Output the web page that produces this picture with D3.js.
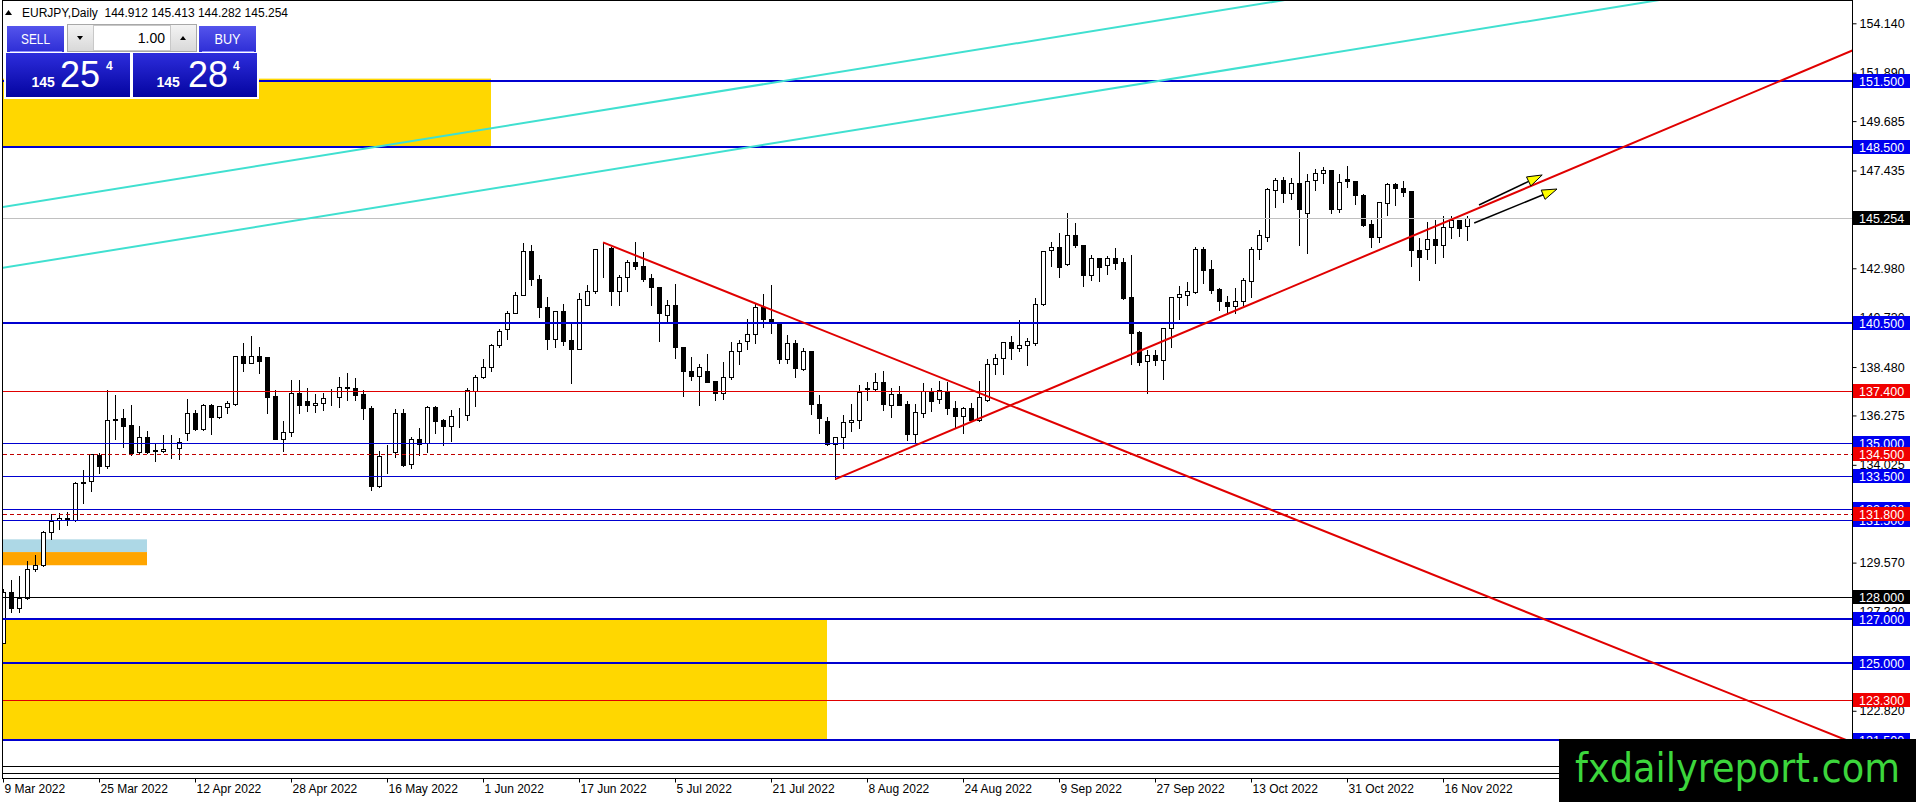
<!DOCTYPE html>
<html>
<head>
<meta charset="utf-8">
<script src="https://cdnjs.cloudflare.com/ajax/libs/d3/7.8.5/d3.min.js"></script>
<style>
  body { margin: 0; background: #fff; }
  svg { display: block; font-family: "Liberation Sans", Arial, sans-serif; }
</style>
</head>
<body>
<svg id="chart" width="1916" height="802"></svg>
<script>
// daily EURJPY candles, 9 Mar 2022 .. 21 Nov 2022
const opens = [
  125.92,128.22,127.52,127.96,129.27,129.45,130.96,131.50,131.59,131.51,
  133.20,133.27,134.47,133.96,136.05,136.14,135.83,134.60,135.28,134.66,
  134.67,134.77,134.78,135.46,136.37,135.64,136.75,136.22,136.65,136.80,
  138.97,138.68,138.97,138.92,137.16,135.22,135.51,137.28,136.92,136.74,
  136.83,137.07,137.10,137.53,137.51,137.24,136.63,133.07,134.61,134.62,
  136.37,134.05,135.19,135.03,136.65,136.07,135.81,136.29,136.30,137.40,
  138.01,138.47,139.48,140.20,140.96,141.78,143.75,142.50,141.20,139.77,
  141.02,139.71,139.32,141.32,141.93,143.86,143.90,141.93,142.57,143.27,
  143.08,142.54,142.11,140.84,141.29,139.41,138.31,138.09,138.29,137.83,
  137.28,138.04,139.20,139.68,139.99,141.23,140.65,140.47,138.86,139.56,
  138.40,139.22,136.78,136.02,134.96,135.31,135.96,136.05,137.50,137.49,
  137.80,136.76,137.25,136.80,135.42,136.40,137.37,137.01,137.37,136.60,
  136.26,136.60,136.07,136.98,138.60,138.88,139.61,139.33,139.48,139.57,
  141.34,143.81,143.96,143.16,144.48,144.03,142.66,143.45,143.13,143.45,
  143.27,141.68,140.08,138.74,139.01,138.80,140.24,141.66,141.76,141.91,
  143.86,142.93,142.02,141.43,141.27,141.50,142.41,143.86,144.42,146.55,
  147.01,146.40,146.85,145.48,147.00,147.33,147.44,145.67,147.04,146.94,
  146.32,145.00,144.39,145.97,146.81,146.65,146.49,143.80,143.84,144.33,
  144.03,144.87,145.18,144.912
];
const highs = [
  128.43,128.82,129.00,129.69,129.96,131.06,131.82,131.86,131.93,133.30,
  133.82,134.55,134.62,137.48,137.25,136.60,136.78,135.84,135.61,135.08,
  135.43,135.43,135.28,137.06,136.55,136.83,136.86,136.75,136.98,139.01,
  139.61,139.93,139.44,138.99,137.47,136.07,137.92,137.92,137.58,137.28,
  137.33,137.51,138.07,138.25,138.01,137.47,136.75,134.70,134.96,136.60,
  136.60,135.35,135.73,136.75,136.75,136.14,136.57,136.67,137.58,138.16,
  138.89,139.56,140.24,141.08,141.96,144.18,144.09,142.72,141.72,141.05,
  141.38,140.47,141.90,142.26,143.89,144.18,144.00,142.72,143.42,144.21,
  143.78,142.78,142.15,141.59,142.32,139.45,138.98,138.68,139.11,137.85,
  138.74,139.65,139.77,140.71,141.38,141.84,142.26,140.50,139.99,139.74,
  139.41,139.27,137.25,136.24,135.35,136.34,136.83,137.71,137.83,138.25,
  138.35,137.58,137.67,136.98,136.86,137.80,137.58,137.89,137.83,136.98,
  136.70,136.90,137.89,138.89,139.13,139.68,139.95,140.65,139.86,141.68,
  143.80,144.21,144.62,145.54,145.07,144.05,143.63,143.47,143.57,143.94,
  143.51,143.63,140.17,139.29,139.32,140.32,141.72,142.23,142.39,144.00,
  144.00,143.39,142.14,141.75,142.14,142.60,144.00,144.75,146.70,147.15,
  147.18,147.12,148.32,147.33,147.53,147.64,147.50,147.31,147.68,146.96,
  146.40,145.24,146.06,146.91,146.91,146.99,146.55,144.42,145.13,145.24,
  145.39,145.39,145.20,145.413
];
const lows = [
  125.90,127.33,127.33,127.90,129.20,129.40,130.66,131.12,131.30,131.45,
  132.27,132.85,133.64,133.88,135.20,134.82,134.46,134.55,134.55,134.21,
  134.61,134.34,134.28,135.16,135.61,135.61,135.43,136.17,136.37,136.75,
  138.31,138.65,138.19,136.40,135.20,134.67,135.35,136.40,136.46,136.45,
  136.52,136.74,136.67,136.98,136.98,136.10,132.88,133.00,133.67,134.40,
  133.97,133.87,134.47,134.60,135.49,134.93,135.12,135.76,136.07,136.70,
  137.98,138.31,139.41,139.74,140.93,141.75,142.23,140.75,139.29,139.41,
  139.47,137.77,139.30,141.29,141.84,142.57,141.32,141.32,141.96,142.96,
  142.39,141.29,139.68,140.50,138.89,137.16,137.89,136.76,137.78,136.98,
  137.04,137.92,138.62,139.29,139.59,140.32,140.04,138.68,138.65,138.04,
  138.35,136.33,135.46,134.93,133.37,134.78,135.58,135.72,136.98,137.43,
  136.52,136.22,136.74,135.16,135.01,136.19,136.49,136.86,136.33,135.69,
  135.46,136.04,136.04,136.95,138.16,138.16,138.86,139.22,138.59,139.50,
  141.29,143.08,142.57,143.13,143.94,142.19,142.45,142.41,142.72,142.93,
  141.57,138.62,138.56,137.31,138.56,137.95,139.38,140.68,141.29,141.87,
  142.32,141.84,141.08,140.90,140.93,141.31,141.68,143.39,144.24,145.76,
  145.98,146.12,144.03,143.69,146.55,146.85,145.48,145.56,146.70,145.91,
  144.91,143.94,144.18,145.39,145.88,146.27,143.08,142.45,143.39,143.23,
  143.48,144.35,144.46,144.282
];
const closes = [
  128.22,127.52,127.96,129.28,129.45,130.96,131.48,131.59,131.51,133.18,
  133.22,134.50,133.99,136.05,136.13,135.81,134.58,135.28,134.63,134.68,
  134.76,134.79,135.05,136.37,135.64,136.74,136.22,136.69,136.83,138.97,
  138.68,138.97,138.75,137.13,135.22,135.51,137.28,136.76,136.74,136.83,
  137.06,137.09,137.56,137.55,137.22,136.60,133.07,134.43,134.63,136.37,
  134.02,135.19,134.96,136.65,136.04,135.79,136.26,136.31,137.43,138.01,
  138.47,139.48,140.14,140.96,141.78,143.75,142.50,141.23,139.77,141.02,
  139.68,139.32,141.57,141.93,143.84,143.88,141.93,142.60,143.27,143.08,
  142.50,142.11,140.93,141.29,139.38,138.31,138.09,138.50,137.80,137.28,
  138.04,139.20,139.56,139.99,141.23,140.68,140.47,138.83,139.56,138.42,
  139.20,136.80,136.14,134.96,135.31,135.96,136.05,137.36,137.52,137.80,
  136.78,137.25,136.76,135.42,136.42,137.37,136.95,137.43,136.60,136.26,
  136.60,136.07,137.10,138.62,138.88,139.61,139.33,139.48,139.66,141.35,
  143.77,143.96,143.05,144.48,144.03,142.67,143.45,143.05,143.45,143.23,
  141.63,140.04,138.71,139.01,138.80,140.24,141.66,141.79,141.93,143.86,
  142.91,141.99,141.47,141.27,141.50,142.45,143.86,144.48,146.58,147.01,
  146.40,146.85,145.67,146.97,147.31,147.44,145.67,146.91,146.95,146.30,
  144.96,144.39,146.00,146.81,146.65,146.47,143.80,143.51,144.33,144.03,
  144.87,145.18,144.81,145.254
];

// axis labels
const dateLabels = ["9 Mar 2022","25 Mar 2022","12 Apr 2022","28 Apr 2022","16 May 2022",
  "1 Jun 2022","17 Jun 2022","5 Jul 2022","21 Jul 2022","8 Aug 2022","24 Aug 2022",
  "9 Sep 2022","27 Sep 2022","13 Oct 2022","31 Oct 2022","16 Nov 2022"];
const priceTicks = [154.140,151.890,149.685,147.435,145.185,142.980,140.730,138.480,
  136.275,134.025,131.775,129.570,127.320,125.070,122.820,120.570];

// horizontal levels
const levelPrices = [151.5,148.5,140.5,137.4,135.0,134.5,133.5,132.0,131.8,131.5,128.0,127.0,125.0,123.3,121.5,120.3,120.0];
const levelKinds  = ["major","major","major","red","minor","dash","minor","minor","dash","minor","black","major","major","red","major","plain","plain"];

// rectangles: bar index from/to, price top/bottom
const zoneKinds  = ["gold","gold","sky","orange"];
const zoneFrom   = [-0.5,-0.5,-0.5,-0.5];
const zoneTo     = [61,103,18,18];
const zoneTop    = [151.62,127.0,130.63,130.05];
const zoneBottom = [148.5,121.5,130.05,129.45];

// trend lines: two anchor points [bar, price]
const trendKinds = ["cyan","cyan","red","red"];
const trendA = [[0,145.77],[0,143.00],[75,144.16],[104.04,133.37]];
const trendB = [[150,154.60],[150,151.84],[230.1,121.53],[231.1,152.89]];
const trendBoth = [true,true,false,false];

// arrows
const arrowFrom = [[184.5,145.86],[183.9,145.04]];
const arrowTo   = [[192.4,147.23],[194.25,146.59]];

const W = 1916, H = 802;
const left = 2.5, right = 1852, bottom = 778;

const tradingDays = d3.timeDays(new Date(2022,2,9), new Date(2022,10,22))
  .filter(d => d.getDay() !== 0 && d.getDay() !== 6);
const bars = opens.map((o, i) => ({ i, date: tradingDays[i], o, h: highs[i], l: lows[i], c: closes[i] }));

const x = d3.scaleLinear().domain([0, 231.125]).range([3, right]);
const y = d3.scaleLinear().domain([119.757, 155.202]).range([bottom, 0]);

const svg = d3.select("#chart");
const defs = svg.append("defs");
defs.append("clipPath").attr("id", "plotClip").append("rect")
  .attr("x", 3).attr("y", 1).attr("width", right - 3).attr("height", bottom - 1);

const grad = (id, c1, c2) => {
  const g = defs.append("linearGradient").attr("id", id).attr("x1", 0).attr("x2", 0).attr("y1", 0).attr("y2", 1);
  g.append("stop").attr("offset", "0%").attr("stop-color", c1);
  g.append("stop").attr("offset", "100%").attr("stop-color", c2);
};
grad("btnGrad", "#5454ec", "#2e2ed6");
grad("priceGrad", "#2d2ddc", "#0404a0");
grad("spinGrad", "#f4f4f4", "#d8d8d8");

svg.append("rect").attr("width", W).attr("height", H).attr("fill", "#fff");

const plot = svg.append("g").attr("clip-path", "url(#plotClip)");

// background rectangles
const zoneColor = { gold: "#ffd700", sky: "#add8e6", orange: "#ffa500" };
plot.append("g").selectAll("rect").data(zoneKinds).join("rect")
  .attr("x", (d, i) => Math.max(3, x(zoneFrom[i])))
  .attr("width", (d, i) => x(zoneTo[i]) - Math.max(3, x(zoneFrom[i])))
  .attr("y", (d, i) => y(zoneTop[i]))
  .attr("height", (d, i) => y(zoneBottom[i]) - y(zoneTop[i]))
  .attr("fill", d => zoneColor[d]);

// candles
const px = v => Math.round(x(v)) + 0.5;
const py = v => Math.round(y(v)) + 0.5;
const gc = plot.append("g").attr("shape-rendering", "crispEdges");
gc.selectAll("line").data(bars).join("line")
  .attr("x1", d => px(d.i)).attr("x2", d => px(d.i))
  .attr("y1", d => py(d.h)).attr("y2", d => py(d.l))
  .attr("stroke", "#000");
gc.selectAll("rect").data(bars).join("rect")
  .attr("x", d => px(d.i) - 2)
  .attr("width", 4)
  .attr("y", d => py(Math.max(d.o, d.c)))
  .attr("height", d => Math.max(0, py(Math.min(d.o, d.c)) - py(Math.max(d.o, d.c))))
  .attr("fill", d => d.c >= d.o ? "#fff" : "#000")
  .attr("stroke", "#000");

// horizontal levels
const levelStyle = {
  major: { stroke: "#0000d0", w: 2, label: "#0000f0" },
  minor: { stroke: "#0000d0", w: 1, label: "#0000f0" },
  red:   { stroke: "#e00000", w: 1, label: "#f00000" },
  dash:  { stroke: "#c00000", w: 1, dash: "4,3", label: "#f00000" },
  black: { stroke: "#000000", w: 1, label: "#000000" },
  plain: { stroke: "#000000", w: 1, label: null }
};
const levels = levelPrices.map((p, i) => ({ p, s: levelStyle[levelKinds[i]] }));
const lastClose = closes[closes.length - 1];

plot.append("line").attr("x1", 3).attr("x2", right)
  .attr("y1", py(lastClose)).attr("y2", py(lastClose))
  .attr("stroke", "#c0c0c0").attr("shape-rendering", "crispEdges");

plot.append("g").attr("shape-rendering", "crispEdges").selectAll("line").data(levels).join("line")
  .attr("x1", 3).attr("x2", right)
  .attr("y1", d => d.s.w === 2 ? Math.round(y(d.p)) : py(d.p))
  .attr("y2", d => d.s.w === 2 ? Math.round(y(d.p)) : py(d.p))
  .attr("stroke", d => d.s.stroke)
  .attr("stroke-width", d => d.s.w)
  .attr("stroke-dasharray", d => d.s.dash || null);

// trend lines
const trendColor = { cyan: "#40e0d0", red: "#e00000" };
const trends = trendKinds.map((k, i) => {
  const a = trendA[i], b = trendB[i];
  const slope = (b[1] - a[1]) / (b[0] - a[0]);
  const x0 = trendBoth[i] ? -10 : a[0];
  const x1 = 240;
  return { k, p0: [x0, a[1] + slope * (x0 - a[0])], p1: [x1, a[1] + slope * (x1 - a[0])] };
});
plot.append("g").selectAll("line").data(trends).join("line")
  .attr("x1", d => x(d.p0[0])).attr("y1", d => y(d.p0[1]))
  .attr("x2", d => x(d.p1[0])).attr("y2", d => y(d.p1[1]))
  .attr("stroke", d => trendColor[d.k]).attr("stroke-width", 2);

// arrows
const ga = plot.append("g");
arrowFrom.forEach((f, i) => {
  const t = arrowTo[i];
  const x1 = x(f[0]), y1 = y(f[1]), x2 = x(t[0]), y2 = y(t[1]);
  const len = Math.hypot(x2 - x1, y2 - y1), ux = (x2 - x1) / len, uy = (y2 - y1) / len;
  const bx = x2 - 15 * ux, by = y2 - 15 * uy, nx = -uy, ny = ux;
  ga.append("line").attr("x1", x1).attr("y1", y1).attr("x2", bx).attr("y2", by)
    .attr("stroke", "#000").attr("stroke-width", 1.5);
  ga.append("path")
    .attr("d", `M${x2},${y2}L${bx + 5 * nx},${by + 5 * ny}L${bx - 5 * nx},${by - 5 * ny}Z`)
    .attr("fill", "#ffff00").attr("stroke", "#000").attr("stroke-width", 1);
});

// frame
svg.append("rect").attr("x", left).attr("y", 0.5).attr("width", right + 0.5 - left).attr("height", bottom)
  .attr("fill", "none").attr("stroke", "#000").attr("shape-rendering", "crispEdges");

// price axis
const yAxis = svg.append("g").attr("transform", `translate(${right + 0.5},0)`)
  .call(d3.axisRight(y).tickValues(priceTicks).tickSize(4).tickFormat(d3.format(".3f")));
yAxis.select(".domain").remove();
yAxis.selectAll("text").attr("font-size", 12.5).attr("font-family", "Liberation Sans, Arial, sans-serif").attr("fill", "#000");

// date axis
const parseLabel = d3.timeParse("%d %b %Y");
const labelIdx = dateLabels.map(s => {
  const t = parseLabel(s);
  return tradingDays.findIndex(d => d.getTime() === t.getTime());
});
const xAxis = svg.append("g").attr("transform", `translate(0,${bottom + 0.5})`)
  .call(d3.axisBottom(x).tickValues(labelIdx).tickSize(4).tickFormat((d, i) => dateLabels[i]));
xAxis.select(".domain").remove();
xAxis.selectAll("text").attr("text-anchor", "start").attr("x", 1).attr("y", 6)
  .attr("font-size", 12).attr("font-family", "Liberation Sans, Arial, sans-serif").attr("fill", "#000");

// level labels (blue first, then red, then black)
const order = { "#0000f0": 0, "#f00000": 1, "#000000": 2 };
const tags = levels.filter(d => d.s.label).map(d => ({ p: d.p, bg: d.s.label }))
  .concat([{ p: lastClose, bg: "#000000" }])
  .sort((a, b) => order[a.bg] - order[b.bg]);
const gt = svg.append("g").selectAll("g").data(tags).join("g")
  .attr("transform", d => `translate(${right + 1},${Math.round(y(d.p))})`);
gt.append("rect").attr("x", 0).attr("y", -7).attr("width", 57).attr("height", 14).attr("fill", d => d.bg);
gt.append("text").attr("x", 6).attr("y", 4.5).attr("font-size", 12.5).attr("fill", "#fff")
  .text(d => d3.format(".3f")(d.p));

// watermark
svg.append("rect").attr("x", 1559).attr("y", 739).attr("width", W - 1559).attr("height", H - 739).attr("fill", "#000");
svg.append("text").attr("x", 1575).attr("y", 782).attr("font-size", 41)
  .attr("font-family", "'Liberation Sans Narrow', 'DejaVu Sans Condensed', 'Liberation Sans', sans-serif")
  .attr("textLength", 325).attr("lengthAdjust", "spacingAndGlyphs")
  .attr("fill", "#3cd63c").text("fxdailyreport.com");

// title
svg.append("path").attr("d", "M5,15L12,15L8.5,10Z").attr("fill", "#000");
svg.append("text").attr("x", 22).attr("y", 17).attr("font-size", 12).attr("fill", "#000")
  .attr("xml:space", "preserve")
  .text(`EURJPY,Daily  ${d3.format(".3f")(opens[183])} ${d3.format(".3f")(highs[183])} ${d3.format(".3f")(lows[183])} ${d3.format(".3f")(closes[183])}`);

// one-click trading panel
const panel = svg.append("g");
panel.append("rect").attr("x", 4).attr("y", 23).attr("width", 255).attr("height", 76).attr("fill", "#fff");
panel.append("rect").attr("x", 7).attr("y", 26).attr("width", 57).attr("height", 26).attr("fill", "url(#btnGrad)");
panel.append("rect").attr("x", 199).attr("y", 26).attr("width", 57).attr("height", 26).attr("fill", "url(#btnGrad)");
panel.append("line").attr("x1", 10).attr("x2", 62).attr("y1", 51.5).attr("y2", 51.5).attr("stroke", "#9090ff");
panel.append("line").attr("x1", 202).attr("x2", 254).attr("y1", 51.5).attr("y2", 51.5).attr("stroke", "#9090ff");
const btnText = (tx, t) => panel.append("text").attr("x", tx).attr("y", 44).attr("text-anchor", "middle")
  .attr("font-size", 15).attr("fill", "#fff").attr("textLength", t === "SELL" ? 29 : 26)
  .attr("lengthAdjust", "spacingAndGlyphs").text(t);
btnText(35.5, "SELL");
btnText(227.5, "BUY");

panel.append("rect").attr("x", 67.5).attr("y", 24.5).attr("width", 129).attr("height", 27)
  .attr("fill", "url(#spinGrad)").attr("stroke", "#a8a8a8");
panel.append("rect").attr("x", 93.5).attr("y", 25.5).attr("width", 77).attr("height", 25)
  .attr("fill", "#fff").attr("stroke", "#c8c8c8");
panel.append("path").attr("d", "M77,36L83,36L80,40Z").attr("fill", "#000");
panel.append("path").attr("d", "M180,40L186,40L183,36Z").attr("fill", "#000");
panel.append("text").attr("x", 165).attr("y", 43).attr("text-anchor", "end").attr("font-size", 14)
  .attr("fill", "#000").text("1.00");

const priceBox = (bx, big, small, sx, bgx, supx) => {
  panel.append("rect").attr("x", bx).attr("y", 53).attr("width", 124).attr("height", 44).attr("fill", "url(#priceGrad)");
  panel.append("text").attr("x", sx).attr("y", 87).attr("font-size", 14).attr("font-weight", "bold")
    .attr("fill", "#fff").text(small);
  panel.append("text").attr("x", bgx).attr("y", 87).attr("font-size", 36).attr("fill", "#fff").text(big);
  panel.append("text").attr("x", supx).attr("y", 70).attr("font-size", 12).attr("font-weight", "bold")
    .attr("fill", "#fff").text("4");
};
priceBox(6, "25", "145", 31.5, 60, 106);
priceBox(133, "28", "145", 156.5, 188, 233);
</script>
</body>
</html>
